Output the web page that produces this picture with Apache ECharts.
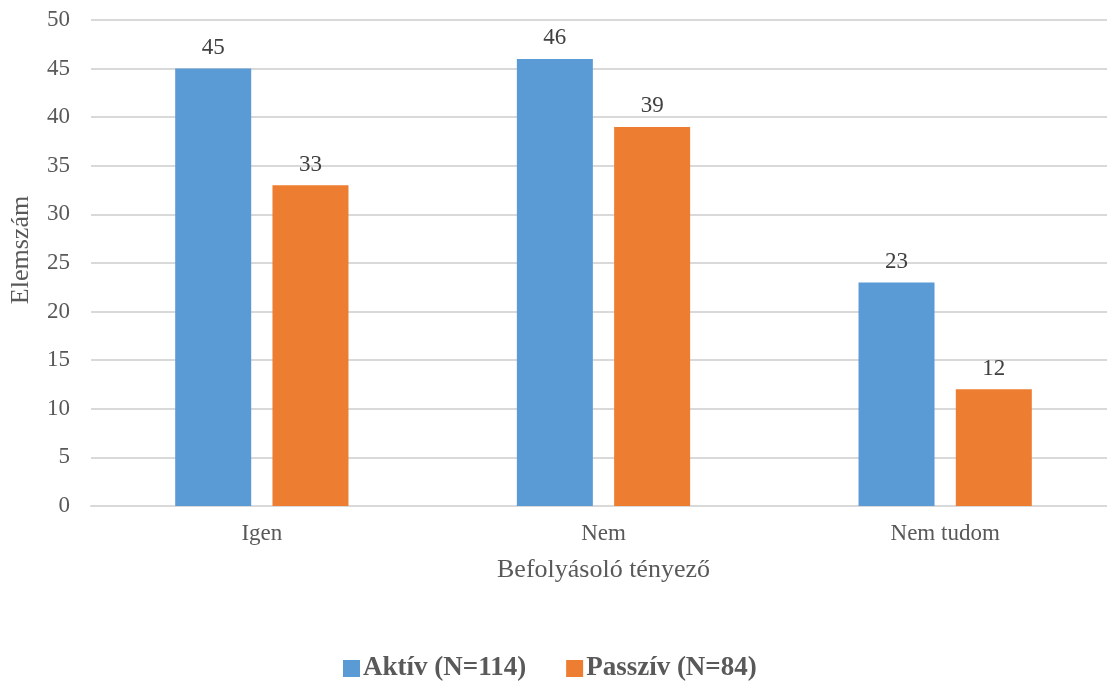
<!DOCTYPE html>
<html><head><meta charset="utf-8">
<script src="https://cdn.jsdelivr.net/npm/echarts@6/dist/echarts.min.js"></script>
<style>html,body{margin:0;padding:0;background:#fff;overflow:hidden;width:1107px;height:684px}#c{width:1116px;height:684px}</style>
</head><body><div id="c"></div>
<script>
const categories = ['Igen', 'Nem', 'Nem tudom'];
const aktiv = [45, 46, 23];
const passziv = [33, 39, 12];
const seriesNames = ['Aktív (N=114)', 'Passzív (N=84)'];
const yTicks = {min: 0, max: 50, interval: 5};

const font = 'Liberation Serif, Times New Roman, serif';
const chart = echarts.init(document.getElementById('c'));
const lbl = {show: true, position: 'top', distance: 9, fontFamily: font, fontSize: 23, color: '#404040'};
chart.setOption({
  animation: false,
  textStyle: {fontFamily: font},
  grid: {left: 90, right: 0, top: 20, height: 486, containLabel: false},
  xAxis: {
    type: 'category', data: categories,
    name: 'Befolyásoló tényező', nameLocation: 'middle', nameGap: 51,
    nameTextStyle: {fontFamily: font, fontSize: 26, color: '#595959'},
    axisLine: {lineStyle: {color: '#d9d9d9', width: 2}},
    axisTick: {show: false},
    axisLabel: {fontFamily: font, fontSize: 23, color: '#595959', margin: 16}
  },
  yAxis: {
    type: 'value', min: yTicks.min, max: yTicks.max, interval: yTicks.interval,
    name: 'Elemszám', nameLocation: 'middle', nameGap: 57, nameRotate: 90,
    nameTextStyle: {fontFamily: font, fontSize: 26, color: '#595959', padding: [0, 0, 0, 26]},
    axisLine: {show: false}, axisTick: {show: false},
    axisLabel: {fontFamily: font, fontSize: 23, color: '#595959', margin: 21},
    splitLine: {lineStyle: {color: '#d9d9d9', width: 2}}
  },
  legend: {
    top: 655, left: 343, padding: 0, itemWidth: 17, itemHeight: 17, itemGap: 40,
    icon: 'rect',
    textStyle: {fontFamily: font, fontSize: 27, fontWeight: 'bold', color: '#595959', padding: [0, 0, 0, -2]},
    data: seriesNames
  },
  series: [
    {name: seriesNames[0], type: 'bar', data: aktiv, barWidth: 76, barGap: '28%',
     itemStyle: {color: '#5b9bd5'}, label: lbl},
    {name: seriesNames[1], type: 'bar', data: passziv, barWidth: 76,
     itemStyle: {color: '#ed7d31'}, label: lbl}
  ]
});
</script></body></html>
